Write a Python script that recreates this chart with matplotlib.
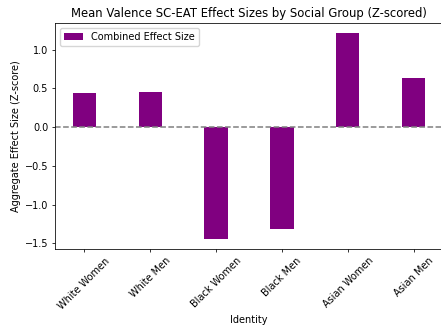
import matplotlib
matplotlib.use("Agg")
import matplotlib.pyplot as plt
import numpy as np

identities = ["White Women", "White Men", "Black Women", "Black Men", "Asian Women", "Asian Men"]
effect_sizes = [0.446, 0.455, -1.44, -1.31, 1.21, 0.627]

s = 0.7
plt.rcParams.update({
    "xtick.major.size": 3.5 * s, "ytick.major.size": 3.5 * s,
    "xtick.major.pad": 3.5 * s, "ytick.major.pad": 3.5 * s,
    "xtick.major.width": 0.8 * s, "ytick.major.width": 0.8 * s,
    "axes.linewidth": 0.8 * s, "axes.labelpad": 4.0 * s, "axes.titlepad": 6.0 * s,
})

W, H = 441, 329
fig = plt.figure(figsize=(W / 100, H / 100), dpi=100)
ax = fig.add_axes([55 / W, 1 - 249 / H, 388 / W, 226 / H])

fs = 7.0
x = np.arange(len(identities))
ax.bar(x, effect_sizes, width=0.35, color="purple", label="Combined Effect Size")
ax.axhline(0, color="gray", linestyle="--", linewidth=1.1)
ax.set_xticks(x)
ax.set_xticklabels(identities, rotation=45, fontsize=fs)
ax.tick_params(axis="y", labelsize=fs)
ax.set_yticks([-1.5, -1.0, -0.5, 0.0, 0.5, 1.0])
ax.set_xlabel("Identity", fontsize=fs)
ax.set_ylabel("Aggregate Effect Size (Z-score)", fontsize=fs)
ax.set_title("Mean Valence SC-EAT Effect Sizes by Social Group (Z-scored)", fontsize=8.4)
ax.legend(loc="upper left", fontsize=fs, borderpad=0.4 * s / 0.7, handlelength=2.0, handleheight=0.7)

fig.savefig("out.png", dpi=100)
